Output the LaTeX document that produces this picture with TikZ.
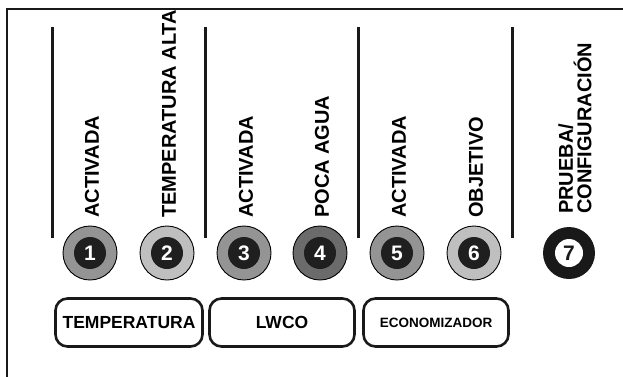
\documentclass[tikz,border=0pt]{standalone}
\usepackage{fontspec}
\setmainfont{Liberation Sans}
\begin{document}
\begin{tikzpicture}[x=1pt,y=-1pt,
  lbl/.style={rotate=90,anchor=west,inner sep=0pt,font=\fontsize{20}{18.5}\selectfont\bfseries},
  sep/.style={line width=3pt,color=black!90},
  ring/.style={circle,draw=black,line width=0.9pt,minimum size=54pt,inner sep=0pt},
  core/.style={circle,fill=black!88,minimum size=32pt,inner sep=0pt,text=white,font=\fontsize{21}{21}\selectfont\bfseries},
  grp/.style={draw=black!90,line width=2.6pt,rounded corners=12pt,minimum height=48pt,inner sep=0pt,font=\fontsize{17.5}{17.5}\selectfont\bfseries}
]
\useasboundingbox (0,0) rectangle (623,376);
\fill[white] (0,0) rectangle (623,376);
% frame
\coordinate (fb) at (7,380);
\coordinate (fc) at (7,9);
\coordinate (fr) at (630,9);
\draw[line width=2.2pt,black!90] (fb) -- (fc) -- (fr);
% separators
\foreach \x/\n in {52/s1,205/s2,358/s3,512/s4}{
  \coordinate (\n t) at (\x,27);
  \coordinate (\n b) at (\x,238);
  \draw[sep] (\n t) -- (\n b);
}
% circles
\node[ring,fill=black!42] (r1) at (90,253) {};
\node[core] (c1) at (r1) {1};
\node[ring,fill=black!25] (r2) at (167,253) {};
\node[core] (c2) at (r2) {2};
\node[ring,fill=black!42] (r3) at (244,253) {};
\node[core] (c3) at (r3) {3};
\node[ring,fill=black!58] (r4) at (320,253) {};
\node[core] (c4) at (r4) {4};
\node[ring,fill=black!42] (r5) at (397,253) {};
\node[core] (c5) at (r5) {5};
\node[ring,fill=black!25] (r6) at (474,253) {};
\node[core] (c6) at (r6) {6};
\node[circle,fill=black!90,minimum size=52pt,inner sep=0pt] (r7) at (569,253) {};
\node[circle,fill=white,minimum size=28pt,inner sep=0pt,text=black!90,font=\fontsize{21}{21}\selectfont\bfseries] (c7) at (r7) {7};
% labels
\node[lbl] (l1) at (92,218) {ACTIVADA};
\node[lbl] (l2) at (169,218) {TEMPERATURA ALTA};
\node[lbl] (l3) at (246,218) {ACTIVADA};
\node[lbl] (l4) at (322,218) {POCA AGUA};
\node[lbl] (l5) at (399,218) {ACTIVADA};
\node[lbl] (l6) at (476,218) {OBJETIVO};
\node[lbl,align=left] (l7) at (575,214) {PRUEBA/\\CONFIGURACIÓN};
% group boxes
\node[grp,minimum width=147pt] (g1) at (129,322.5) {TEMPERATURA};
\node[grp,minimum width=145pt] (g2) at (282,322.5) {LWCO};
\node[grp,minimum width=145pt,font=\fontsize{13.5}{13.5}\selectfont\bfseries] (g3) at (436,322.5) {ECONOMIZADOR};
\end{tikzpicture}
\end{document}
